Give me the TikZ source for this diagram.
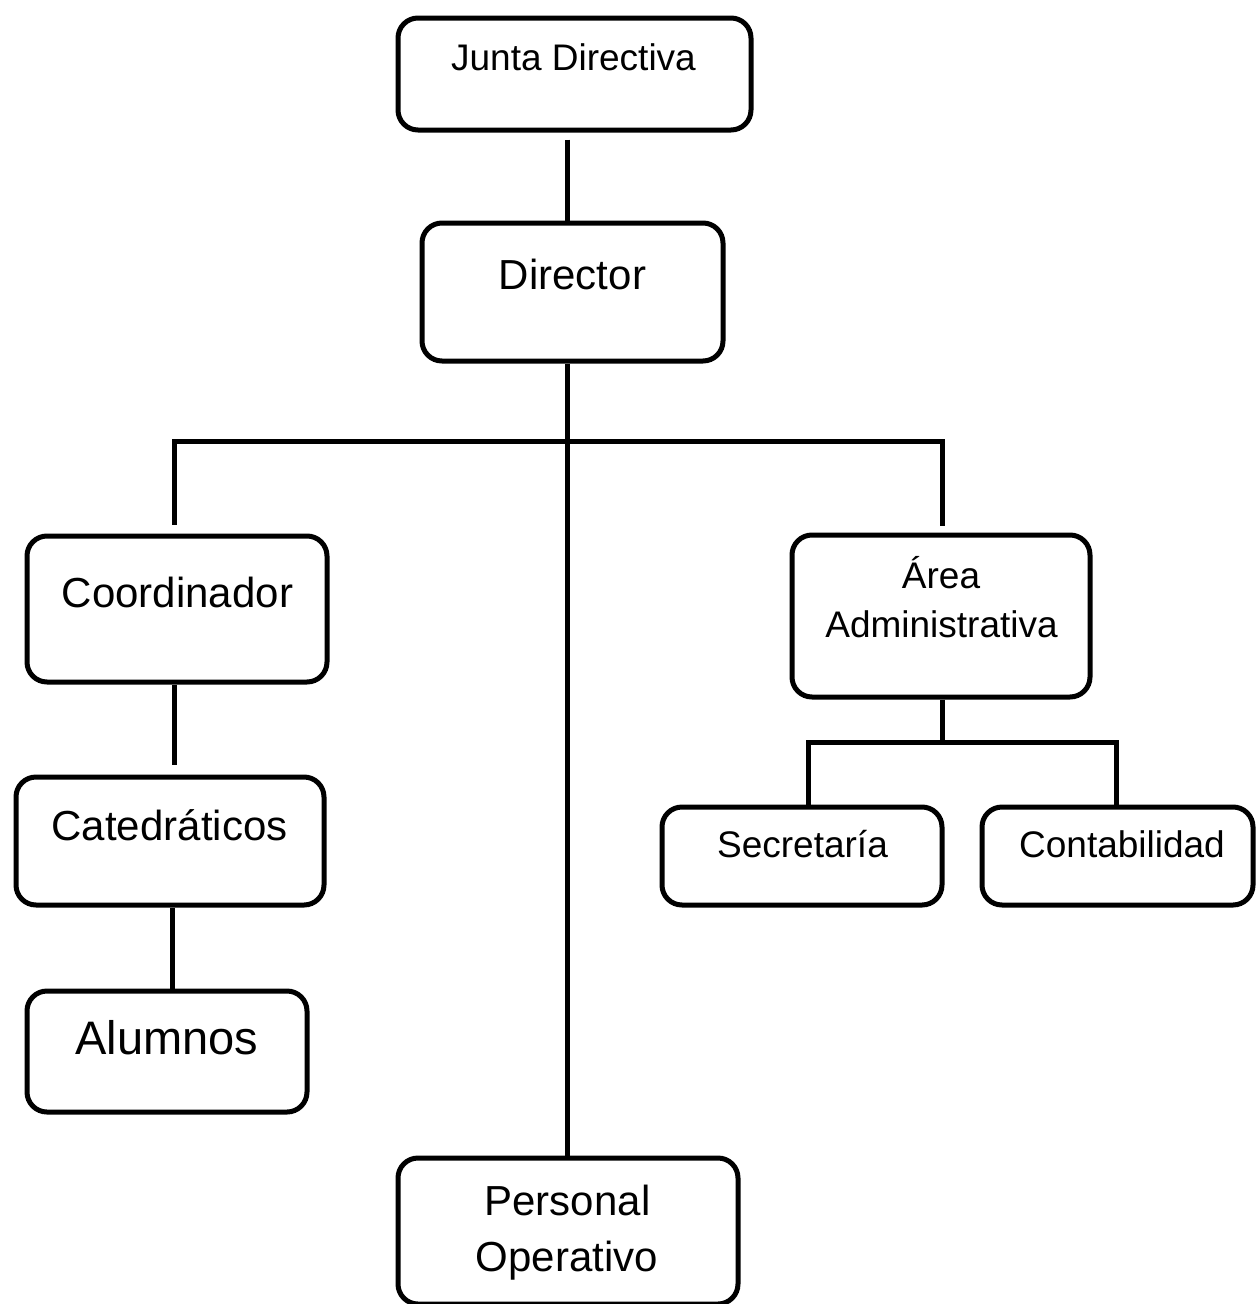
\documentclass[tikz,border=0pt]{standalone}
\usepackage{fontspec}
\setmainfont{Liberation Sans}
\begin{document}
\begin{tikzpicture}[x=1pt,y=-1pt,
  box/.style={draw, line width=5pt, rounded corners=20pt, inner sep=0pt},
  link/.style={line width=5pt, line join=miter},
  lbl/.style={anchor=base, inner sep=0pt},
  fs/.style={font=\fontsize{37}{45}\selectfont},
  fm/.style={font=\fontsize{42}{50}\selectfont},
  fl/.style={font=\fontsize{47}{56}\selectfont}]
\path[use as bounding box, fill=white] (0,0) rectangle (1256,1304);
\begin{scope}
\clip (0,0) rectangle (1256,1304);
% boxes
\node[box, minimum width=353pt, minimum height=112pt] (junta) at (574.5,74) {};
\node[box, minimum width=301pt, minimum height=138pt] (director) at (572.5,292) {};
\node[box, minimum width=300pt, minimum height=146pt] (coord) at (177,609) {};
\node[box, minimum width=308pt, minimum height=128pt] (cated) at (170,841) {};
\node[box, minimum width=280pt, minimum height=121pt] (alum) at (167,1051.5) {};
\node[box, minimum width=340pt, minimum height=146pt] (pers) at (568,1231) {};
\node[box, minimum width=298pt, minimum height=162pt] (area) at (941,616) {};
\node[box, minimum width=280pt, minimum height=98pt] (secr) at (802,856) {};
\node[box, minimum width=271pt, minimum height=98pt] (cont) at (1117.5,856) {};
% labels
\node[lbl, fs] (tjunta) at (573.5,70) {Junta Directiva};
\node[lbl, fm] (tdir) at (572.5,289) {Director};
\node[lbl, fm] (tcoord) at (177.5,607) {Coordinador};
\node[lbl, fm] (tcated) at (169.5,840) {Catedráticos};
\node[lbl, fl] (talum) at (167,1054) {Alumnos};
\node[lbl, fm] (tpers1) at (567.5,1215) {Personal};
\node[lbl, fm] (tpers2) at (567,1271) {Operativo};
\node[lbl, fs] (tarea1) at (941,588) {Área};
\node[lbl, fs] (tarea2) at (941.5,637) {Administrativa};
\node[lbl, fs] (tsecr) at (802.5,857) {Secretaría};
\node[lbl, fs] (tcont) at (1122,857) {Contabilidad};
% connector helper coordinates
\coordinate (trunk) at (567,441);
\coordinate (lbus) at (174,441);
\coordinate (rbus) at (942,441);
\coordinate (lcol) at (174,700);
\coordinate (lcol2) at (172,950);
\coordinate (abus) at (942,742);
\coordinate (sbus) at (808,742);
\coordinate (cbus) at (1116,742);
% connectors
\draw[link] ([yshift=-7pt]junta.south -| trunk) -- (director.north -| trunk);
\draw[link] (director.south -| trunk) -- (pers.north -| trunk);
\draw[link] ([yshift=9pt]coord.north -| lbus) -- (lbus) -- (rbus) -- ([yshift=7pt]area.north -| rbus);
\draw[link] (coord.south -| lcol) -- ([yshift=10pt]cated.north -| lcol);
\draw[link] (cated.south -| lcol2) -- (alum.north -| lcol2);
\draw[link] (area.south -| abus) -- (abus);
\draw[link] (secr.north -| sbus) -- (sbus) -- (cbus) -- (cont.north -| cbus);
\end{scope}
\end{tikzpicture}
\end{document}
